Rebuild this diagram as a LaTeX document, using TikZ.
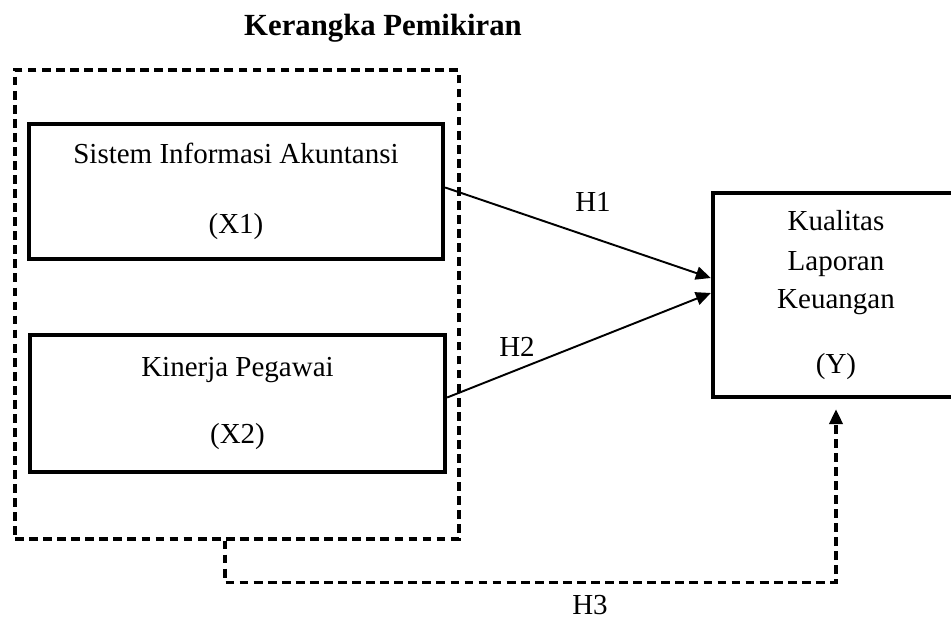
\documentclass[tikz,border=0pt]{standalone}
\usepackage{fontspec}
\setmainfont{Liberation Serif}
\usetikzlibrary{arrows.meta,calc}
\tikzset{
  varbox/.style={draw,rectangle,line width=2.5pt,align=center,inner sep=0pt},
  groupbox/.style={draw,line width=1.9pt,dash pattern=on 5pt off 3pt},
  hyp/.style={line width=1.1pt},
  >={Triangle[length=8.5pt,width=7.5pt]},
}
\begin{document}
\begin{tikzpicture}[x=0.02cm,y=-0.02cm,font=\fontsize{16.5}{19}\selectfont]
  \clip (0,0) rectangle (951,619);
  \node[font=\fontsize{17.5}{20}\selectfont\bfseries] (title) at (383,28) {Kerangka Pemikiran};
  % variables
  \node[groupbox,minimum width=8.88cm,minimum height=9.38cm] (grp) at (237,304.5) {};
  \node[varbox,minimum width=8.28cm,minimum height=2.7cm]  (X1) at (236,191.5)
    {Sistem Informasi Akuntansi\\[21pt](X1)};
  \node[varbox,minimum width=8.3cm,minimum height=2.74cm]  (X2) at (237.5,403.5)
    {Kinerja Pegawai\\[19pt](X2)};
  \node[varbox,minimum width=4.92cm,minimum height=4.08cm] (Y)  at (836,295)
    {Kualitas\\[3.8pt]Laporan\\[3pt]Keuangan\\[18pt](Y)};
  % hypotheses
  \draw[hyp,->] ($(X1.east)+(0,-4)$) -- ($(Y.west)+(0,-17)$);
  \draw[hyp,->] ($(X2.east)+(0,-6)$) -- ($(Y.west)+(0,-2)$);
  \coordinate (h3a) at ($(grp.south)+(-12,0)$);
  \coordinate (h3b) at ($(Y.south)+(0,183)$);
  \draw[groupbox,->,shorten >=0.2cm] (h3a) |- (h3b) -- (Y.south);
  \node (h1) at (593,202) {H1};
  \node (h2) at (517,347) {H2};
  \node (h3) at (590,605) {H3};
\end{tikzpicture}
\end{document}
